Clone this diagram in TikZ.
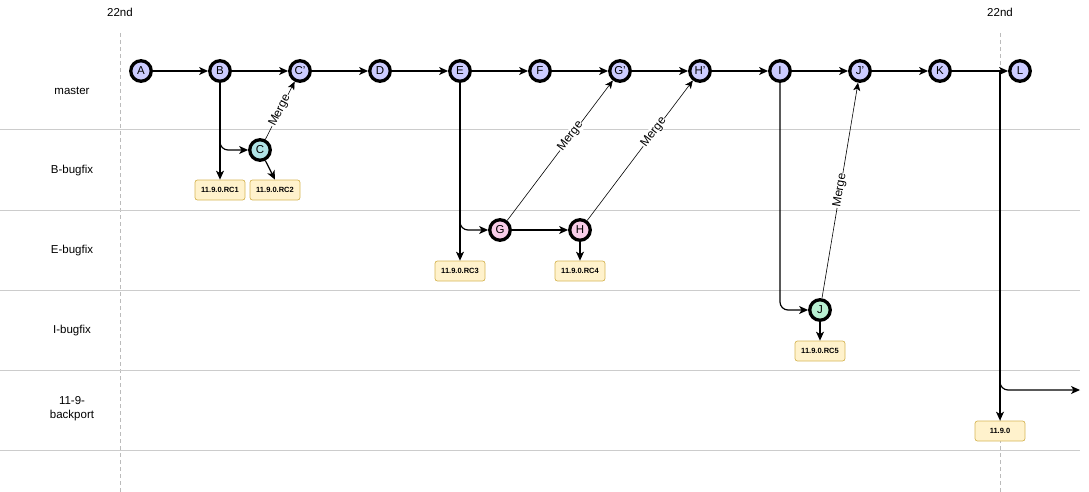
\documentclass[tikz,border=0pt]{standalone}
\usepackage{fontspec}
\setmainfont{Liberation Sans}
\usetikzlibrary{arrows.meta}
\definecolor{lav}{HTML}{CCCCFF}
\definecolor{cyanc}{HTML}{B0E3E6}
\definecolor{pinkc}{HTML}{F8CDE8}
\definecolor{mintc}{HTML}{B9F0D2}
\definecolor{tagfill}{HTML}{FFF2CC}
\definecolor{tagdraw}{HTML}{D6B656}
\definecolor{sep}{HTML}{CCCCCC}
\definecolor{guide}{HTML}{BBBBBB}
\tikzset{
  commit/.style={circle, draw=black, line width=3.3pt, minimum size=20.5pt, inner sep=0pt, fill=lav, font=\fontsize{11.5}{13}\selectfont},
  tag/.style={rectangle, rounded corners=2.5pt, draw=tagdraw, fill=tagfill, line width=0.7pt, minimum width=50pt, minimum height=20pt, inner sep=0pt, font=\bfseries\fontsize{7.5}{9}\selectfont},
  lane/.style={font=\fontsize{11.5}{14}\selectfont, align=center},
  arr/.style={-{Stealth[length=9pt,width=8pt,inset=2.5pt]}, line width=1.2pt, black},
  merge/.style={-{Stealth[length=8pt,width=7pt,inset=2pt]}, line width=0.6pt, black},
  mlabel/.style={sloped, fill=white, inner sep=0.5pt, font=\fontsize{12}{14}\selectfont},
  sepline/.style={draw=sep, line width=1pt},
  guideline/.style={draw=guide, line width=0.8pt, dash pattern=on 4pt off 3pt},
}
\begin{document}
\begin{tikzpicture}[x=1pt,y=-1pt]
\useasboundingbox (0,0) rectangle (1089,492);
% guides
\draw[guideline] (120,33) -- (120,492);
\draw[guideline] (1000,33) -- (1000,492);
\node[lane] (d1) at (120,12) {22nd};
\node[lane] (d2) at (1000,12) {22nd};
% lane separators
\foreach \y in {130,210,290,370,450} \draw[sepline] (0,\y) -- (1080,\y);
\node[lane] (l1) at (72,91) {master};
\node[lane] (l2) at (72,171) {B-bugfix};
\node[lane] (l3) at (72,251) {E-bugfix};
\node[lane] (l4) at (72,331) {I-bugfix};
\node[lane] (l5) at (72,409) {11-9-\\backport};
% master commits
\node[commit] (A) at (141,71) {A};
\node[commit] (B) at (220,71) {B};
\node[commit] (Cp) at (300,71) {C'};
\node[commit] (D) at (380,71) {D};
\node[commit] (E) at (460,71) {E};
\node[commit] (F) at (540,71) {F};
\node[commit] (Gp) at (620,71) {G'};
\node[commit] (Hp) at (700,71) {H'};
\node[commit] (I) at (780,71) {I};
\node[commit] (Jp) at (860,71) {J'};
\node[commit] (K) at (940,71) {K};
\node[commit] (L) at (1020,71) {L};
% branch commits
\node[commit, fill=cyanc] (C) at (260,150) {C};
\node[commit, fill=pinkc] (G) at (500,230) {G};
\node[commit, fill=pinkc] (H) at (580,230) {H};
\node[commit, fill=mintc] (J) at (820,310) {J};
% tags
\node[tag] (rc1) at (220,190) {11.9.0.RC1};
\node[tag] (rc2) at (275,190) {11.9.0.RC2};
\node[tag] (rc3) at (460,271) {11.9.0.RC3};
\node[tag] (rc4) at (580,271) {11.9.0.RC4};
\node[tag] (rc5) at (820,351) {11.9.0.RC5};
\node[tag] (rel) at (1000,431) {11.9.0};
% master line
\draw[arr] (A) -- (B);
\draw[arr] (B) -- (Cp);
\draw[arr] (Cp) -- (D);
\draw[arr] (D) -- (E);
\draw[arr] (E) -- (F);
\draw[arr] (F) -- (Gp);
\draw[arr] (Gp) -- (Hp);
\draw[arr] (Hp) -- (I);
\draw[arr] (I) -- (Jp);
\draw[arr] (Jp) -- (K);
\draw[arr] (K) -- (L);
% branches
\draw[arr] (B) -- (rc1);
\draw[arr, rounded corners=8pt] (B) |- (C);
\draw[arr] (C) -- (rc2.north);
\draw[arr] (E) -- (rc3);
\draw[arr, rounded corners=8pt] (E) |- (G);
\draw[arr] (G) -- (H);
\draw[arr] (H) -- (rc4);
\draw[arr, rounded corners=8pt] (I) |- (J);
\draw[arr] (J) -- (rc5);
\coordinate (kl) at (1000,71);
\coordinate (bp) at (1080,390);
\draw[arr] (kl) -- (rel);
\draw[arr, rounded corners=8pt] (kl) |- (bp);
% merges
\draw[merge] (C) -- node[mlabel, pos=0.5] {Merge} (Cp);
\draw[merge] (G) -- node[mlabel, pos=0.6] {Merge} (Gp);
\draw[merge] (H) -- node[mlabel, pos=0.63] {Merge} (Hp);
\draw[merge] (J) -- node[mlabel, pos=0.5] {Merge} (Jp);
\end{tikzpicture}
\end{document}
